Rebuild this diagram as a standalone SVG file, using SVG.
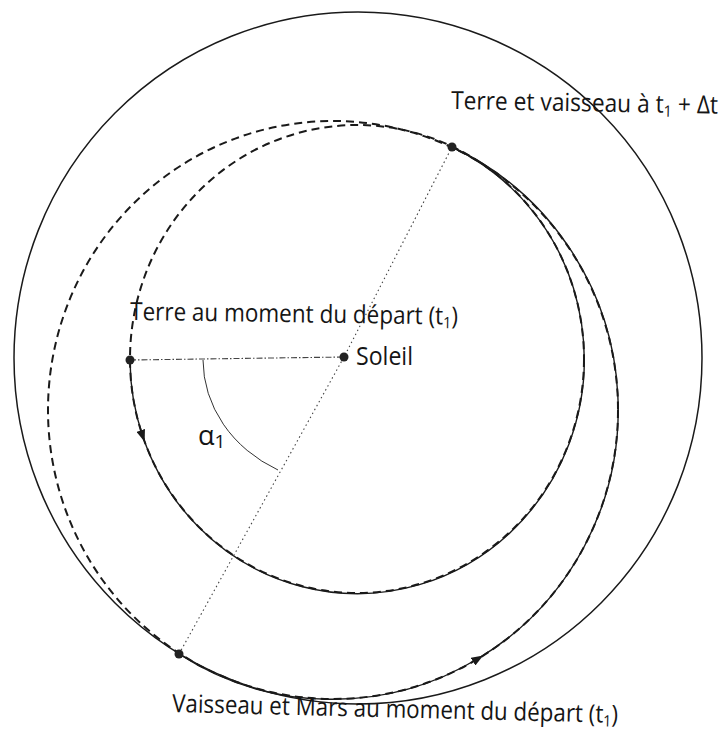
<svg xmlns="http://www.w3.org/2000/svg" width="723" height="742" viewBox="0 0 723 742">
<defs>
<style>
.orbit{fill:none;stroke:#1a1a1a;stroke-width:1.5}
.dash{fill:none;stroke:#1a1a1a;stroke-width:2;stroke-dasharray:8 5}
.trav{fill:none;stroke:#1a1a1a;stroke-width:1.4}
.dot{fill:#222}
.dotted{fill:none;stroke:#444;stroke-width:1.1;stroke-dasharray:1.5 3}
.dashdot{fill:none;stroke:#444;stroke-width:1.1;stroke-dasharray:6 2 1.5 2}
.angle{fill:none;stroke:#333;stroke-width:1}
.lbl{font-family:"Open Sans","DejaVu Sans",sans-serif;font-size:25px;fill:#151515}
.sub{font-size:16px}
</style>
<marker id="arr" viewBox="0 0 12 9" refX="7" refY="4.5" markerWidth="12" markerHeight="9" markerUnits="userSpaceOnUse" orient="auto"><path d="M0,0 L12,4.5 L0,9 z" fill="#1a1a1a"/></marker>
</defs>
<rect width="723" height="742" fill="#fff"/>
<g id="mars-orbit">
<ellipse class="orbit" cx="358" cy="358" rx="344" ry="346"/>
</g>
<g id="earth-orbit">
<ellipse class="dash" cx="357" cy="359" rx="227" ry="234"/>
</g>
<g id="transfer-orbit">
<ellipse class="dash" cx="333" cy="410" rx="285" ry="289"/>
</g>
<g id="connectors">
<path class="trav" d="M130,360 A227,234 0 0,0 143,437" marker-end="url(#arr)"/>
<path class="trav" d="M143,437 A227,234 0 1,0 452,147"/>
<path class="trav" d="M179,654 A285,289 0 0,0 479,658" marker-end="url(#arr)"/>
<path class="trav" d="M479,658 A285,289 0 0,0 452,147"/>
<path class="dashdot" d="M130,360 L344,357"/>
<path class="dotted" d="M179,654 L344,357 L452,147"/>
<path class="angle" d="M203,360 A141,125 0 0,0 278,470"/>
</g>
<g id="node-terre-t1">
<circle class="dot" cx="130" cy="360" r="4.5"/>
<text class="lbl" x="130" y="320" transform="rotate(0.8 130 320)" textLength="328" lengthAdjust="spacingAndGlyphs">Terre au moment du départ (t<tspan class="sub" dy="4">1</tspan><tspan dy="-4">)</tspan></text>
</g>
<g id="node-soleil">
<circle class="dot" cx="344" cy="357" r="4.5"/>
<text class="lbl" x="356" y="365" textLength="57" lengthAdjust="spacingAndGlyphs">Soleil</text>
</g>
<g id="node-terre-dt">
<circle class="dot" cx="452" cy="147" r="4.5"/>
<text class="lbl" x="451" y="109" transform="rotate(1 451 109)" textLength="267" lengthAdjust="spacingAndGlyphs">Terre et vaisseau à t<tspan class="sub" dy="4">1</tspan><tspan dy="-4"> + Δt</tspan></text>
</g>
<g id="node-vaisseau">
<circle class="dot" cx="179" cy="654" r="4.5"/>
<text class="lbl" x="172" y="712" transform="rotate(1.4 172 712)" textLength="446" lengthAdjust="spacingAndGlyphs">Vaisseau et Mars au moment du départ (t<tspan class="sub" dy="4">1</tspan><tspan dy="-4">)</tspan></text>
</g>
<g id="angle-label">
<text class="lbl" x="198" y="445" style="font-size:27px">α<tspan style="font-size:19px" dy="3">1</tspan></text>
</g>
</svg>
